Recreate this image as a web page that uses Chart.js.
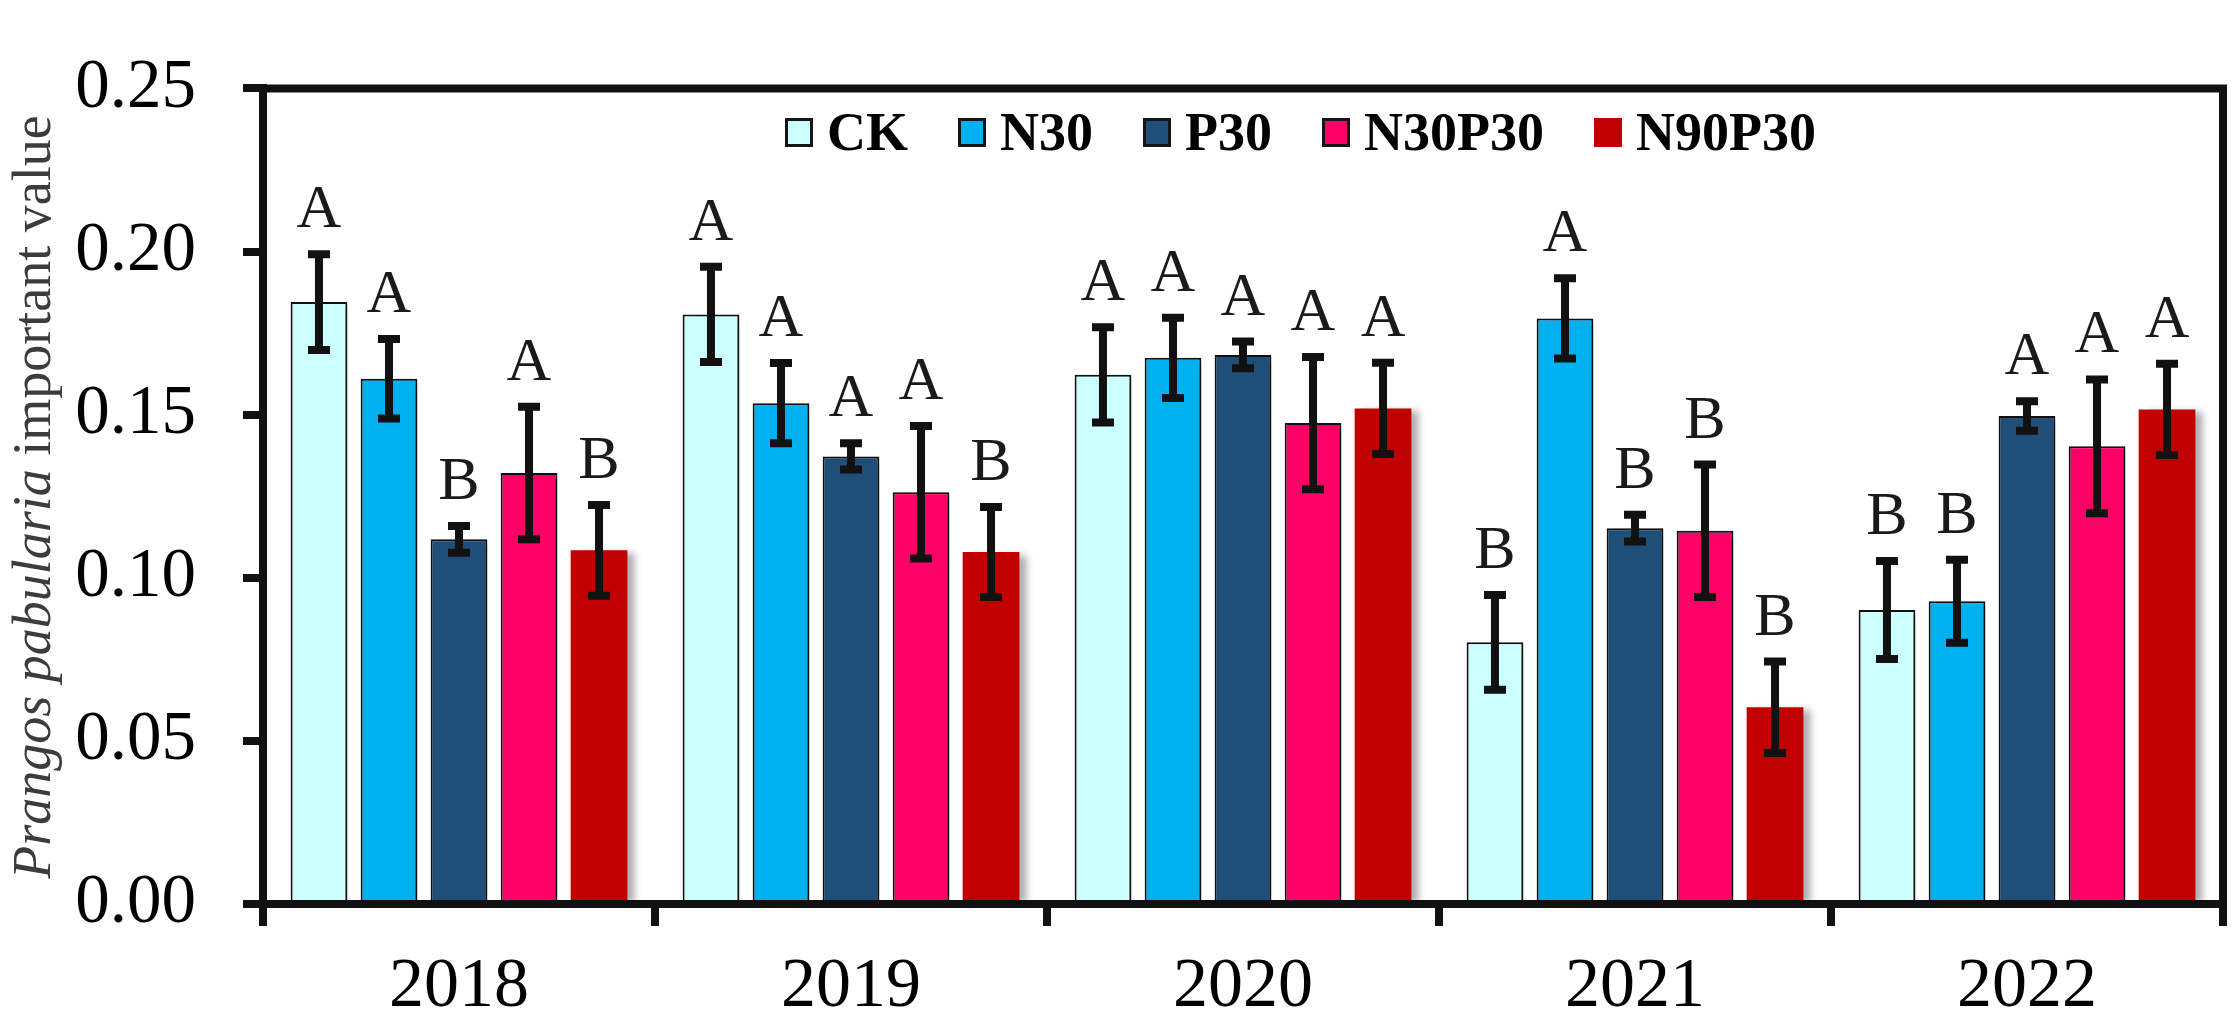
<!DOCTYPE html>
<html>
<head>
<meta charset="utf-8">
<script src="https://cdn.jsdelivr.net/npm/chart.js@4.4.1/dist/chart.umd.min.js"></script>
<style>
  html, body { margin: 0; padding: 0; background: #ffffff; }
  #wrap { width: 2233px; height: 1028px; position: relative; }
</style>
</head>
<body>
<div id="wrap"><canvas id="c"></canvas></div>
<script>
// ---- data ----
const years = ['2018', '2019', '2020', '2021', '2022'];
const seriesNames = ['CK', 'N30', 'P30', 'N30P30', 'N90P30'];

const ckValues     = [0.1845, 0.1807, 0.1622, 0.0802, 0.0901];
const n30Values    = [0.1610, 0.1535, 0.1674, 0.1795, 0.0928];
const p30Values    = [0.1118, 0.1372, 0.1683, 0.1152, 0.1496];
const n30p30Values = [0.1321, 0.1262, 0.1474, 0.1144, 0.1403];
const n90p30Values = [0.1084, 0.1079, 0.1519, 0.0603, 0.1516];

const ckErr     = [0.0147, 0.0146, 0.0146, 0.0145, 0.0150];
const n30Err    = [0.0122, 0.0123, 0.0123, 0.0123, 0.0127];
const p30Err    = [0.0041, 0.0040, 0.0041, 0.0041, 0.0045];
const n30p30Err = [0.0203, 0.0203, 0.0203, 0.0203, 0.0205];
const n90p30Err = [0.0139, 0.0138, 0.0140, 0.0140, 0.0140];

const ckLetters     = ['A', 'A', 'A', 'B', 'B'];
const n30Letters    = ['A', 'A', 'A', 'A', 'B'];
const p30Letters    = ['B', 'A', 'A', 'B', 'A'];
const n30p30Letters = ['A', 'A', 'A', 'B', 'A'];
const n90p30Letters = ['B', 'B', 'A', 'B', 'A'];

const yTickValues = [0, 0.05, 0.10, 0.15, 0.20, 0.25];

const titleItalic = 'Prangos pabularia';
const titleRegular = ' important value';

// ---- styles ----
const fills   = ['#CCFFFF', '#00B0F0', '#1F4E79', '#FF0066', '#C00000'];
const borders = [2, 2, 2, 2, 0];
const SERIF = "'Liberation Serif', 'Times New Roman', serif";

const valueSets  = [ckValues, n30Values, p30Values, n30p30Values, n90p30Values];
const errorSets  = [ckErr, n30Err, p30Err, n30p30Err, n90p30Err];
const letterSets = [ckLetters, n30Letters, p30Letters, n30p30Letters, n90p30Letters];

const datasets = seriesNames.map((name, i) => ({
  label: name,
  data: valueSets[i],
  backgroundColor: fills[i],
  borderColor: '#111111',
  borderWidth: borders[i],
  categoryPercentage: 0.893,
  barPercentage: 0.81,
  errors: errorSets[i],
  letters: letterSets[i]
}));

const shadowPlugin = {
  id: 'barShadow',
  beforeDatasetsDraw(chart) {
    const ctx = chart.ctx;
    ctx.save();
    ctx.shadowColor = 'rgba(0,0,0,0.32)';
    ctx.shadowBlur = 7;
    ctx.shadowOffsetX = 8;
    ctx.shadowOffsetY = 3;
  },
  afterDatasetsDraw(chart) {
    chart.ctx.restore();
  }
};

const errorPlugin = {
  id: 'errorBarsLetters',
  afterDatasetsDraw(chart) {
    const ctx = chart.ctx;
    const ys = chart.scales.y;
    ctx.save();
    ctx.strokeStyle = '#111111';
    ctx.lineCap = 'butt';
    chart.data.datasets.forEach((ds, i) => {
      const meta = chart.getDatasetMeta(i);
      meta.data.forEach((bar, j) => {
        const v = ds.data[j], e = ds.errors[j];
        const x = bar.x;
        const yTop = ys.getPixelForValue(v + e);
        const yBot = ys.getPixelForValue(v - e);
        ctx.lineWidth = 8;
        ctx.beginPath();
        ctx.moveTo(x, yTop);
        ctx.lineTo(x, yBot);
        ctx.stroke();
        ctx.beginPath();
        ctx.moveTo(x - 11, yTop); ctx.lineTo(x + 11, yTop);
        ctx.moveTo(x - 11, yBot); ctx.lineTo(x + 11, yBot);
        ctx.stroke();
        ctx.fillStyle = '#1a1a1a';
        ctx.font = '62px ' + SERIF;
        ctx.textAlign = 'center';
        ctx.textBaseline = 'alphabetic';
        ctx.fillText(ds.letters[j], x, yTop - 27);
      });
    });
    ctx.restore();
  }
};

const framePlugin = {
  id: 'frame',
  afterDraw(chart) {
    const ctx = chart.ctx;
    const a = chart.chartArea;
    ctx.save();
    ctx.strokeStyle = '#111111';
    ctx.lineWidth = 8;
    ctx.lineCap = 'butt';
    ctx.beginPath();
    ctx.moveTo(a.left - 4, a.top);
    ctx.lineTo(a.right + 4, a.top);
    ctx.moveTo(a.right, a.top - 4);
    ctx.lineTo(a.right, a.bottom);
    ctx.stroke();

    // legend
    let x = 785;
    const boxTop = 118, boxW = 28, boxH = 29, baseY = 150;
    ctx.font = 'bold 54px ' + SERIF;
    ctx.textBaseline = 'alphabetic';
    ctx.textAlign = 'left';
    chart.data.datasets.forEach((ds) => {
      ctx.fillStyle = ds.backgroundColor;
      ctx.fillRect(x, boxTop, boxW, boxH);
      if (ds.borderWidth > 0) {
        ctx.lineWidth = 3;
        ctx.strokeStyle = '#151515';
        ctx.strokeRect(x + 1.5, boxTop + 1.5, boxW - 3, boxH - 3);
      }
      ctx.fillStyle = '#000000';
      ctx.fillText(ds.label, x + boxW + 14, baseY);
      x += boxW + 14 + ctx.measureText(ds.label).width + 50;
    });

    // y-axis title (mixed italic/regular)
    ctx.fillStyle = '#3c3c3c';
    const fItal = 'italic 54px ' + SERIF;
    const fReg = '54px ' + SERIF;
    ctx.font = fItal; const w1 = ctx.measureText(titleItalic).width;
    ctx.font = fReg;  const w2 = ctx.measureText(titleRegular).width;
    const total = w1 + w2;
    ctx.translate(50, 497);
    ctx.rotate(-Math.PI / 2);
    ctx.textAlign = 'left';
    ctx.font = fItal; ctx.fillText(titleItalic, -total / 2, 0);
    ctx.font = fReg;  ctx.fillText(titleRegular, -total / 2 + w1, 0);
    ctx.restore();
  }
};

new Chart(document.getElementById('c'), {
  type: 'bar',
  data: { labels: years, datasets: datasets },
  options: {
    responsive: true,
    maintainAspectRatio: false,
    devicePixelRatio: 1,
    animation: false,
    layout: { padding: { top: 40, right: 10, left: 0, bottom: 0 } },
    plugins: { legend: { display: false }, tooltip: { enabled: false } },
    scales: {
      x: {
        grid: { display: true, drawOnChartArea: false, drawTicks: true, offset: true,
                tickLength: 22, tickWidth: 8, lineWidth: 8, color: '#111111', tickColor: '#111111' },
        border: { display: true, width: 8, color: '#111111' },
        ticks: { font: { family: SERIF, size: 70 }, color: '#000000', padding: 20, maxRotation: 0 },
        afterFit(s) { s.height = 124; }
      },
      y: {
        min: 0, max: 0.25,
        afterBuildTicks(s) { s.ticks = yTickValues.map(v => ({ value: v })); },
        grid: { display: true, drawOnChartArea: false, drawTicks: true,
                tickLength: 20, tickWidth: 8, lineWidth: 8, color: '#111111', tickColor: '#111111' },
        border: { display: true, width: 8, color: '#111111' },
        ticks: { font: { family: SERIF, size: 69 }, color: '#000000', padding: 47,
                 callback: (v) => Number(v).toFixed(2) },
        afterFit(s) { s.width = 263; }
      }
    }
  },
  plugins: [shadowPlugin, errorPlugin, framePlugin]
});
</script>
</body>
</html>
